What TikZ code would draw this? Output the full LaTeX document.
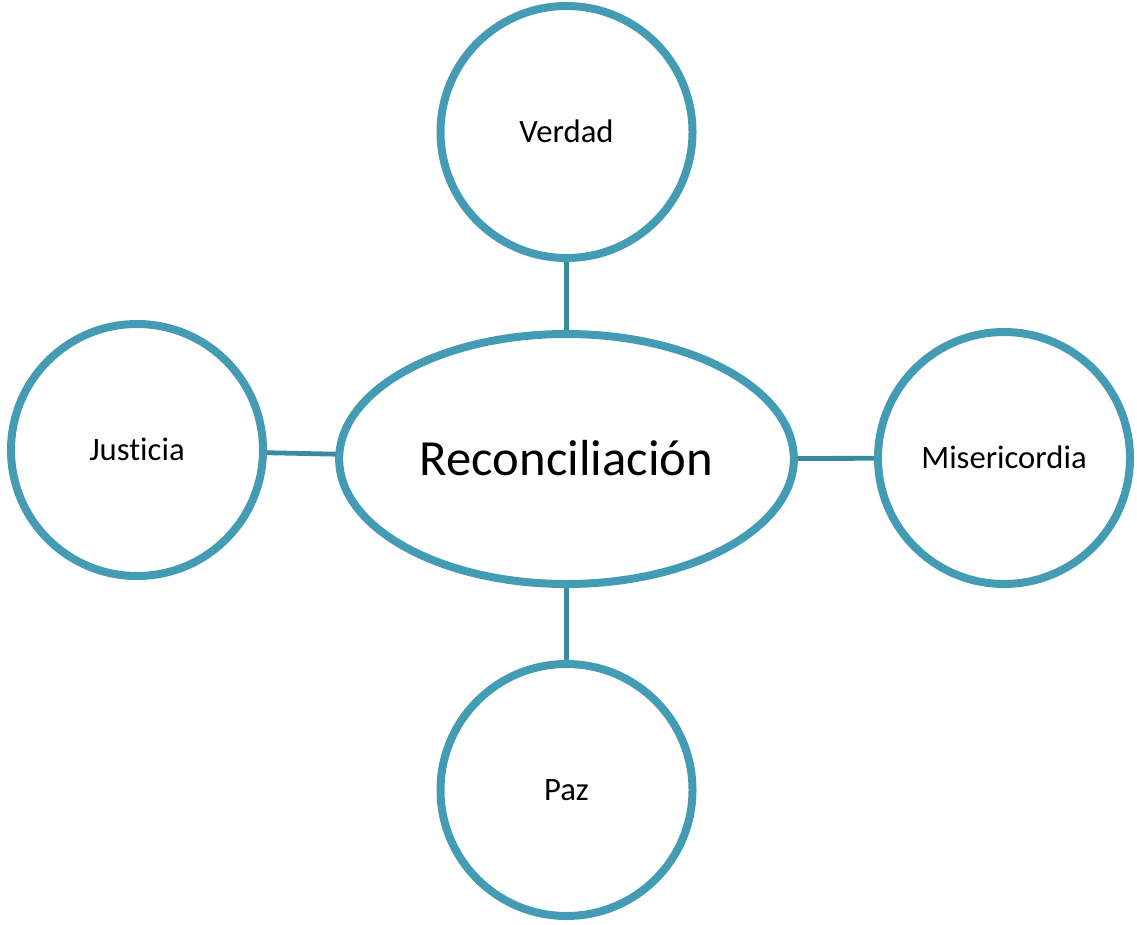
\documentclass[tikz,border=0pt]{standalone}
\usepackage{fontspec}
\setmainfont{Carlito}[Ligatures=NoCommon]
\usetikzlibrary{shadows,shapes.geometric}
\pgfdeclarelayer{background}
\pgfsetlayers{background,main}
\definecolor{ringcol}{RGB}{68,156,180}
\definecolor{linkcol}{RGB}{58,139,157}
\tikzset{
  ring/.style={circle, draw=ringcol, line width=6pt, fill=white, inner sep=0pt,
    minimum size=189pt, text height=15.8pt, text depth=0pt,
    font=\fontsize{24.5}{29}\selectfont,
    drop shadow={opacity=0.18, shadow xshift=1.2pt, shadow yshift=-2pt}},
  hub/.style={ellipse, draw=ringcol, line width=6pt, fill=white, inner sep=0pt,
    minimum width=341pt, minimum height=187.5pt, text height=24.5pt, text depth=0pt,
    font=\fontsize{38}{45}\selectfont,
    drop shadow={opacity=0.18, shadow xshift=1.2pt, shadow yshift=-2pt}},
  link/.style={draw=linkcol, line width=3.6pt}
}
\begin{document}
\begin{tikzpicture}[x=0.75pt, y=-0.75pt]
\useasboundingbox (0,0) rectangle (1137,924);
\node[hub] (R) at (566.5,459) {Reconciliación};
\node[ring] (V) at (566.5,132) {Verdad};
\node[ring] (J) at (137,450) {Justicia};
\node[ring] (M) at (1004,458) {Misericordia};
\node[ring] (P) at (566.5,790) {Paz};
\begin{pgfonlayer}{background}
\draw[link] (V.center) -- (R.center);
\draw[link] (J.center) -- (R.center);
\draw[link] (M.center) -- (R.center);
\draw[link] (P.center) -- (R.center);
\end{pgfonlayer}
\end{tikzpicture}
\end{document}
